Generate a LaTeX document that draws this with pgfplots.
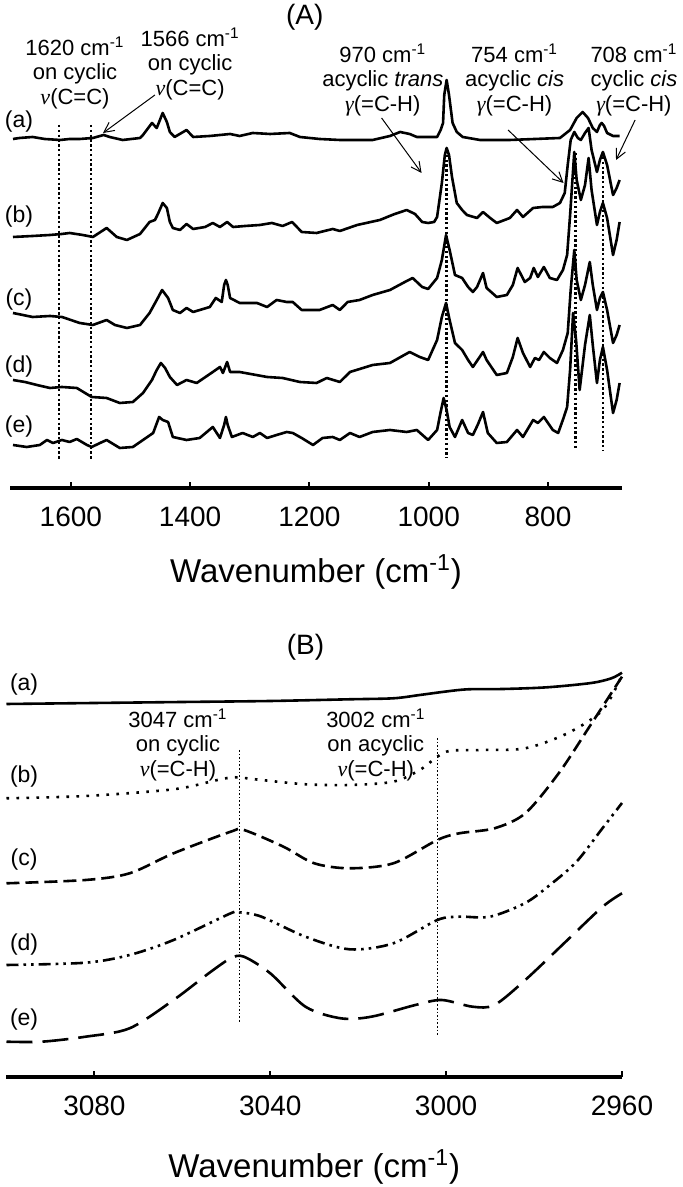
\documentclass[border=0pt]{standalone}
\usepackage{fontspec}
\setmainfont{Liberation Sans}
\newfontfamily\greekfont{Liberation Serif}
\usepackage{pgfplots}
\pgfplotsset{compat=1.18}
\usetikzlibrary{arrows.meta}

\newcommand{\gnu}{{\greekfont\itshape ν}}
\newcommand{\ggam}{{\greekfont\itshape γ}}
\newcommand{\annfont}{\fontsize{11}{12.2}\selectfont}
\newcommand{\lblfont}{\fontsize{11.5}{12}\selectfont}

\tikzset{pointer/.style={black, line width=0.5pt, -{Straight Barb[length=5pt,width=5pt]}}}
\pgfplotsset{
  spec/.style={black, line width=1.3pt, line join=round, mark=none},
  vline/.style={black, line width=1.2pt, dash pattern=on 1.2pt off 1.2pt},
  vlineB/.style={black, line width=0.8pt, dash pattern=on 0.8pt off 1pt},
  ftir/.style={
    scale only axis, clip=false, x dir=reverse,
    axis x line=bottom, axis y line=none,
    x axis line style={-, line width=1.6pt},
    tick align=inside, major tick length=3pt,
    tick style={line width=1pt, black},
    xticklabel style={font=\fontsize{14}{14}\selectfont, yshift=-6pt},
    /pgf/number format/assume math mode=true,
    /pgf/number format/set thousands separator={},
  },
}

\begin{document}
\begin{tikzpicture}
\path[use as bounding box] (0,0) rectangle (341pt,593.5pt);

% ---------------- (A) 1700-675 cm-1 ----------------
\begin{axis}[ftir,
  at={(5pt,349.5pt)}, anchor=south west,
  width=306pt, height=244pt,
  xmin=676, xmax=1702, ymin=0, ymax=488,
  xtick={800,1000,1200,1400,1600},
]
% (a)
\addplot[spec] coordinates {
(1697,349)(1686,350)(1664,351)(1644,349)(1618,348)(1602,349)(1585,349)(1563,350)
(1545,353)(1535,351)(1513,348)(1484,350)(1479,353)(1464,365)(1456,360)(1446,375)
(1439,366)(1434,356)(1426,351)(1406,358)(1395,351)(1367,352)(1333,354)(1317,352)
(1295,355)(1266,354)(1233,355)(1216,351)(1183,349)(1149,348)(1094,348)(1065,352)
(1048,356)(1032,354)(1020,351)(986,351)(980,358)(976,365)(974,393)(970,408)
(966,393)(960,365)(953,356)(943,351)(914,348)(864,348)(780,350)(763,358)(752,370)
(742,376)(733,370)(725,360)(718,356)(713,363)(710,365)(706,362)(701,355)(691,352)(680,352)
};
% (b)
\addplot[spec] coordinates {
(1697,251)(1664,252)(1635,253)(1615,254)(1602,255)(1580,253)(1563,251)(1540,260)
(1523,251)(1506,248)(1484,254)(1468,266)(1459,268)(1454,274)(1446,285)(1439,280)
(1434,266)(1429,260)(1417,258)(1406,264)(1395,259)(1375,261)(1362,265)(1350,261)
(1338,266)(1328,261)(1308,262)(1283,263)(1263,265)(1245,262)(1229,266)(1213,256)
(1188,255)(1161,259)(1149,257)(1120,263)(1082,268)(1057,274)(1037,278)(1023,274)
(1011,266)(1001,265)(991,266)(986,271)(978,305)(973,333)(970,340)(966,333)(961,311)
(953,285)(944,278)(936,273)(919,270)(909,276)(897,270)(886,265)(864,270)(852,278)
(842,271)(825,280)(809,281)(792,281)(780,285)(772,295)(767,323)(762,348)(756,356)
(750,350)(745,348)(738,355)(732,360)(727,338)(718,316)(713,328)(708,336)(701,323)
(691,293)(685,300)(680,308)
};
% (c)
\addplot[spec] coordinates {
(1697,175)(1664,171)(1635,172)(1615,171)(1585,165)(1563,163)(1540,168)(1526,163)
(1506,160)(1484,163)(1468,175)(1456,188)(1447,198)(1437,190)(1429,178)(1417,175)
(1406,180)(1395,176)(1367,181)(1357,190)(1347,186)(1343,203)(1340,208)(1337,203)
(1333,190)(1317,185)(1288,185)(1271,181)(1255,188)(1238,186)(1228,186)(1213,178)
(1183,178)(1161,183)(1149,178)(1136,186)(1116,188)(1094,193)(1065,198)(1040,206)
(1027,210)(1011,201)(1001,199)(986,210)(978,228)(971,253)(965,238)(956,213)(944,210)
(934,201)(926,196)(919,201)(909,215)(903,200)(886,191)(869,193)(859,203)(851,220)
(839,206)(830,210)(824,220)(817,211)(807,221)(797,210)(785,208)(775,218)(768,233)
(763,273)(756,336)(752,308)(745,288)(738,303)(732,330)(727,298)(718,263)(713,276)
(708,285)(701,270)(691,233)(685,248)(680,266)
};
% (d)
\addplot[spec] coordinates {
(1697,108)(1677,106)(1657,103)(1635,100)(1615,101)(1590,100)(1565,91)(1540,90)
(1518,85)(1496,86)(1479,95)(1464,108)(1456,118)(1449,125)(1442,120)(1434,111)
(1422,103)(1406,108)(1389,105)(1362,116)(1350,121)(1345,115)(1338,126)(1333,116)
(1317,116)(1271,111)(1245,110)(1216,106)(1188,105)(1171,110)(1149,106)(1132,116)
(1094,123)(1065,125)(1032,136)(1015,131)(1001,128)(986,148)(978,171)(971,185)
(965,168)(956,145)(944,138)(934,128)(926,121)(918,128)(909,136)(903,128)(886,113)
(869,115)(859,131)(851,150)(842,135)(830,121)(822,130)(815,128)(807,136)(797,130)
(785,125)(775,138)(767,155)(762,198)(756,238)(752,208)(745,188)(738,203)(730,226)
(725,203)(718,178)(713,190)(708,196)(701,178)(691,145)(685,153)(680,163)
};
% (e)
\addplot[spec] coordinates {
(1697,43)(1674,41)(1652,43)(1640,48)(1630,45)(1615,48)(1602,46)(1590,49)(1573,43)
(1565,41)(1551,45)(1540,48)(1518,40)(1496,41)(1479,48)(1462,55)(1452,71)(1446,68)
(1437,66)(1429,51)(1406,48)(1384,50)(1362,61)(1350,50)(1343,63)(1340,71)(1337,63)
(1330,51)(1312,55)(1295,51)(1283,55)(1271,50)(1255,53)(1238,56)(1228,55)(1213,50)
(1194,43)(1178,50)(1161,51)(1149,48)(1132,55)(1116,51)(1094,56)(1065,58)(1037,56)
(1020,58)(1001,48)(986,58)(980,76)(975,90)(970,78)(965,61)(956,51)(944,68)(934,55)
(926,53)(918,63)(909,76)(901,55)(886,45)(869,46)(852,58)(842,51)(825,68)(817,65)
(807,71)(792,58)(783,55)(774,70)(768,81)(763,118)(758,175)(753,148)(747,98)(738,143)
(730,173)(725,143)(718,105)(713,128)(708,141)(701,118)(691,75)(685,88)(680,105)
};
% band positions
\addplot[vline] coordinates {(1620,363)(1620,28)};
\addplot[vline] coordinates {(1566,363)(1566,28)};
\addplot[vline] coordinates {(970,338)(970,30)};
\addplot[vline] coordinates {(754,335)(754,38)};
\addplot[vline] coordinates {(708,331)(708,38)};
% pointers
\draw[pointer] (axis cs:1459,393) -- (axis cs:1546,355);
\draw[pointer] (axis cs:1079,370) -- (axis cs:1012,315);
\draw[pointer] (axis cs:867,358) -- (axis cs:774,305);
\draw[pointer] (axis cs:654,368) -- (axis cs:686,328);
% annotations
\node[align=center, font=\annfont] at (axis cs:1593,415) {1620 cm\textsuperscript{-1}\\on cyclic\\\gnu(C=C)};
\node[align=center, font=\annfont] at (axis cs:1400,424) {1566 cm\textsuperscript{-1}\\on cyclic\\\gnu(C=C)};
\node[align=center, font=\annfont] at (axis cs:1077,408) {970 cm\textsuperscript{-1}\\acyclic \textit{trans}\\\ggam(=C-H)};
\node[align=center, font=\annfont] at (axis cs:856,408) {754 cm\textsuperscript{-1}\\acyclic \textit{cis}\\\ggam(=C-H)};
\node[align=center, font=\annfont] at (axis cs:656,408) {708 cm\textsuperscript{-1}\\cyclic \textit{cis}\\\ggam(=C-H)};
% trace labels
\node[font=\lblfont] at (axis cs:1687,366) {(a)};
\node[font=\lblfont] at (axis cs:1687,271) {(b)};
\node[font=\lblfont] at (axis cs:1687,188) {(c)};
\node[font=\lblfont] at (axis cs:1687,121) {(d)};
\node[font=\lblfont] at (axis cs:1687,61) {(e)};
\node[font=\fontsize{14}{14}\selectfont] at (axis cs:1208,471) {(A)};
\node[font=\fontsize{16.5}{18}\selectfont] at ([yshift=-42pt]rel axis cs:0.5,0) {Wavenumber (cm\textsuperscript{-1})};
\end{axis}

% ---------------- (B) 3100-2960 cm-1 ----------------
\begin{axis}[ftir,
  at={(3.25pt,55pt)}, anchor=south west,
  width=307.75pt, height=223.5pt,
  xmin=2960, xmax=3100, ymin=0, ymax=447,
  xtick={2960,3000,3040,3080},
]
\addplot[spec, smooth, tension=0.5] coordinates {
(3100,373)(3080,374)(3060,375)(3040,376)(3022,377.7)(3012,378.7)(3006,382)(3000,385.5)
(2995,387.7)(2987,388)(2977,389.7)(2967,394)(2962.4,398.7)(2960,404.3)
};
\addplot[spec, smooth, tension=0.5, dash pattern=on 1.3pt off 3.7pt] coordinates {
(3100,278.7)(3082,281)(3062,287.7)(3052,297)(3048,299.7)(3042,297)(3032,292.7)(3022,292)
(3012,295.3)(3006,307)(3002,320.3)(2999,326.3)(2992,327)(2982,328.7)(2972.4,343.7)
(2964.4,367)(2960,402)
};
\addplot[spec, smooth, tension=0.5, dash pattern=on 6.5pt off 3pt] coordinates {
(3100,193.7)(3082,197)(3072,203.7)(3062,223.7)(3049,245.3)(3046,247)(3037,230.3)(3030,213.7)
(3022,208.7)(3012,213.7)(3002,237)(2997,243.7)(2989,248.7)(2982,263.7)(2974.4,303.7)
(2967.4,350.3)(2960,400.3)
};
\addplot[spec, smooth, tension=0.5, dash pattern=on 6pt off 2.5pt on 1.3pt off 2.5pt on 1.3pt off 2.5pt] coordinates {
(3100,112)(3082,114.3)(3072,122)(3062,137)(3049,163.7)(3047,164.7)(3042,160.3)(3032,140.3)
(3022,127.7)(3012,133.7)(3002,157)(2997,160.3)(2990,160.3)(2982,174)(2976.4,192)
(2970.4,215)(2964.4,249)(2960,274)
};
\addplot[spec, smooth, tension=0.5, dash pattern=on 13pt off 5pt] coordinates {
(3100,35.3)(3092,35.3)(3082,40.3)(3072,48.7)(3062,77)(3054,103.7)(3049,118.7)(3046,120.3)
(3040,103.7)(3032,70.3)(3024,58.7)(3017,60.3)(3007,72)(3001,77)(2994,70.3)(2989,72)
(2982,97)(2972.4,137)(2964.4,170.3)(2960,183.7)
};
\addplot[vlineB] coordinates {(3047,327)(3047,54)};
\addplot[vlineB] coordinates {(3002,339)(3002,42)};
\node[align=center, font=\annfont] at (axis cs:3061,332) {3047 cm\textsuperscript{-1}\\on cyclic\\\gnu(=C-H)};
\node[align=center, font=\annfont] at (axis cs:3016,332) {3002 cm\textsuperscript{-1}\\on acyclic\\\gnu(=C-H)};
\node[font=\lblfont] at (axis cs:3096,392) {(a)};
\node[font=\lblfont] at (axis cs:3096,300) {(b)};
\node[font=\lblfont] at (axis cs:3096,217) {(c)};
\node[font=\lblfont] at (axis cs:3096,132) {(d)};
\node[font=\lblfont] at (axis cs:3096,57) {(e)};
\node[font=\fontsize{14}{14}\selectfont] at (axis cs:3032,430) {(B)};
\node[font=\fontsize{16.5}{18}\selectfont] at ([yshift=-45pt]rel axis cs:0.5,0) {Wavenumber (cm\textsuperscript{-1})};
\end{axis}
\end{tikzpicture}
\end{document}
